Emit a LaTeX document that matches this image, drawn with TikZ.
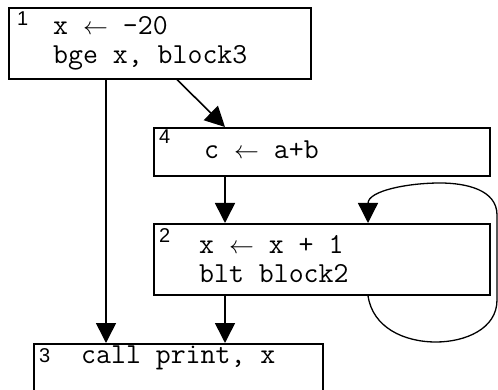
\documentclass[tikz,border=0pt]{standalone}
\usepackage{fontspec}
\setsansfont{Liberation Sans}
\usetikzlibrary{arrows.meta}

\begin{document}
\begin{tikzpicture}[
        x=1pt, y=-1pt, % ось y направлена вниз
        block/.style = {draw, line width=1.6pt, anchor=north west, inner sep=0pt}, % рамка блока
        code/.style = {anchor=west, inner sep=0pt, align=left, font=\ttfamily\fontsize{29}{29}\selectfont}, % текст блока
        num/.style = {anchor=north west, inner sep=0pt, font=\sffamily\fontsize{20}{20}\selectfont}, % номер блока
        arr/.style = {draw, line width=1.6pt, -{Triangle[length=20pt, width=20pt]}}, % переход
        back/.style = {draw, line width=1.3pt, -{Triangle[length=20pt, width=20pt]}}, % цикл
    ]
    \clip (0,0) rectangle (498,390);

    % блоки
    \node[block, minimum width=302pt, minimum height=71pt] (b1) at (8,7) {};
    \node[block, minimum width=336pt, minimum height=48pt] (b4) at (153,127) {};
    \node[block, minimum width=336pt, minimum height=71pt] (b2) at (153,223) {};
    \node[block, minimum width=289pt, minimum height=71pt] (b3) at (33,343) {};

    % номера блоков
    \node[num] (n1) at ([shift={(9,5)}]b1.north west) {1};
    \node[num] (n4) at ([shift={(6,3)}]b4.north west) {4};
    \node[num] (n2) at ([shift={(6,5)}]b2.north west) {2};
    \node[num] (n3) at ([shift={(6,5)}]b3.north west) {3};

    % код
    \node[code] (c1) at ([xshift=45pt]b1.west) {x $\leftarrow$ -20\\bge x, block3};
    \node[code] (c4) at ([shift={(51,-2)}]b4.west) {c $\leftarrow$ a+b};
    \node[code] (c2) at ([xshift=46pt]b2.west) {x $\leftarrow$ x + 1\\blt block2};
    \node[code] (c3) at ([shift={(48,15)}]b3.north west) {call print, x};

    % переходы
    \draw[arr] ([xshift=98pt]b1.south west) -- ([xshift=73pt]b3.north west);
    \draw[arr] ([xshift=169pt]b1.south west) -- ([xshift=72pt]b4.north west);
    \draw[arr] ([xshift=72pt]b4.south west) -- ([xshift=72pt]b2.north west);
    \draw[arr] ([xshift=72pt]b2.south west) -- ([xshift=192pt]b3.north west);

    % цикл блока 2
    \coordinate (lb) at (436,342);
    \coordinate (lr) at (497,300);
    \coordinate (lq) at (497,215);
    \coordinate (lt) at (440,183);
    \draw[back] ([xshift=215pt]b2.south west) to[out=-82, in=180] (lb)
        to[out=0, in=-90] (lr) -- (lq) to[out=90, in=0] (lt)
        to[out=180, in=90] ([xshift=215pt]b2.north west);
\end{tikzpicture}
\end{document}
